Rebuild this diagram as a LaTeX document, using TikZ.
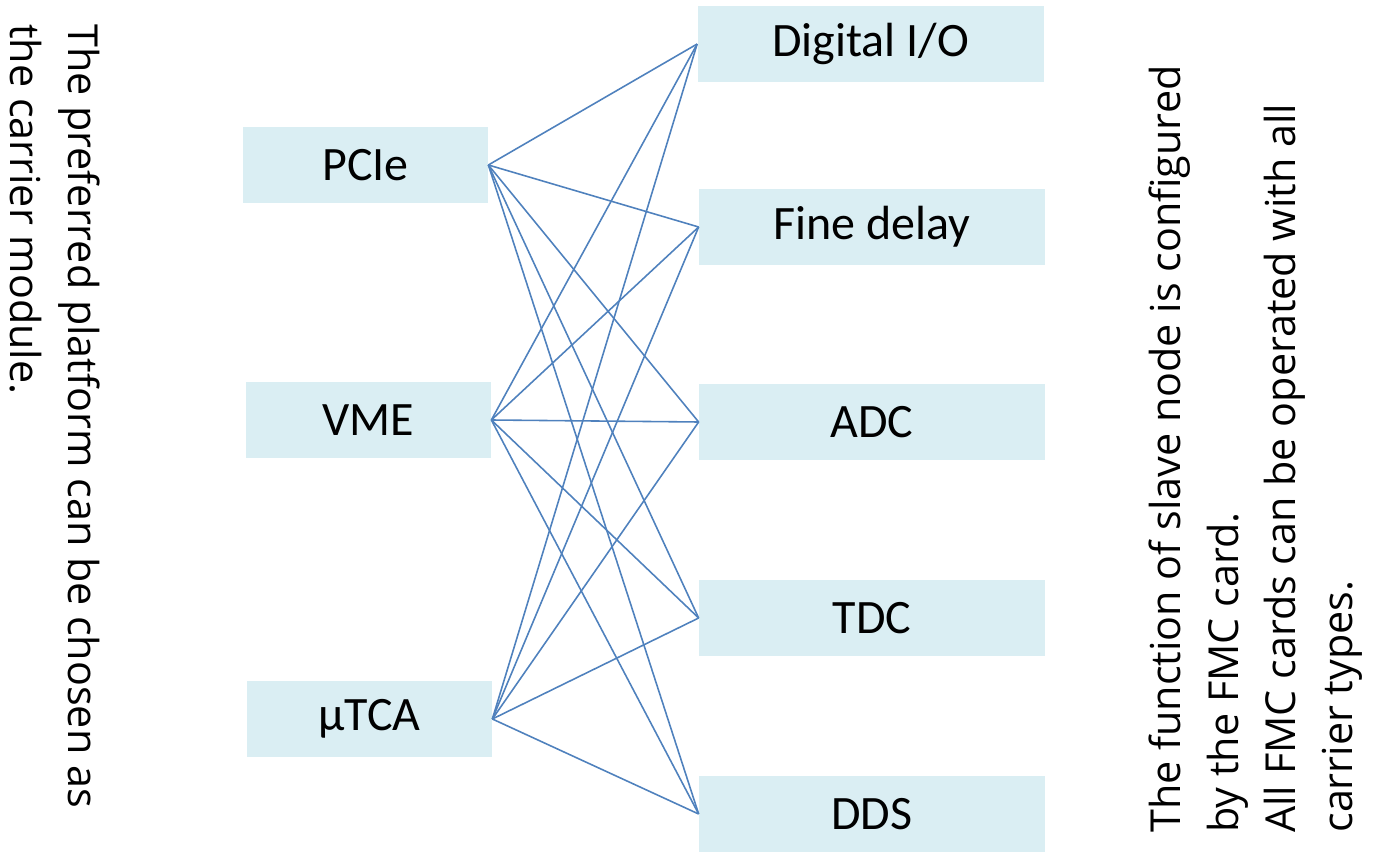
\documentclass[tikz,border=0pt]{standalone}
\usepackage{fontspec}
\setmainfont{Carlito}
\newfontfamily\notefont{Open Sans}
\definecolor{cardfill}{HTML}{DAEEF3}
\definecolor{linkblue}{HTML}{4F81BD}
\tikzset{
  carrierbox/.style={fill=cardfill,minimum width=4.9cm,minimum height=1.52cm,inner sep=0pt,font=\fontsize{27.3}{33}\selectfont},
  fmcbox/.style={fill=cardfill,minimum width=6.92cm,minimum height=1.52cm,inner sep=0pt,font=\fontsize{27.3}{33}\selectfont},
  link/.style={linkblue,line width=.9pt},
  sidenote/.style={align=left,inner sep=0pt,font=\notefont\fontsize{23.5}{32.5}\selectfont}
}
\begin{document}
\begin{tikzpicture}[x=1cm,y=1cm]
  \useasboundingbox (0,0) rectangle (27.46,17.14);

  % carrier modules
  \node[carrierbox] (pcie) at (7.31,13.84) {PCIe};
  \node[carrierbox] (vme)  at (7.37,8.74)  {VME};
  \node[carrierbox] (utca) at (7.39,2.76)  {μTCA};

  % FMC cards
  \node[fmcbox] (dio)    at (17.41,16.26) {Digital I/O};
  \node[fmcbox] (fdelay) at (17.44,12.60) {Fine delay};
  \node[fmcbox] (adc)    at (17.44,8.70)  {ADC};
  \node[fmcbox] (tdc)    at (17.44,4.78)  {TDC};
  \node[fmcbox] (dds)    at (17.44,0.86)  {DDS};

  % every carrier to every card
  \foreach \c in {pcie,vme,utca}
    \foreach \f in {dio,fdelay,adc,tdc,dds}
      \draw[link] (\c.east) -- (\f.west);

  % side notes
  \node[sidenote,rotate=-90,anchor=north west] (leftnote) at (2.0,16.66)
    {The preferred platform can be chosen as\\the carrier module.};
  \node[sidenote,rotate=90,anchor=north west] (rightnote) at (22.98,0.48)
    {The function of slave node is configured\\by the FMC card.\\All FMC cards can be operated with all\\carrier types.};
\end{tikzpicture}
\end{document}
